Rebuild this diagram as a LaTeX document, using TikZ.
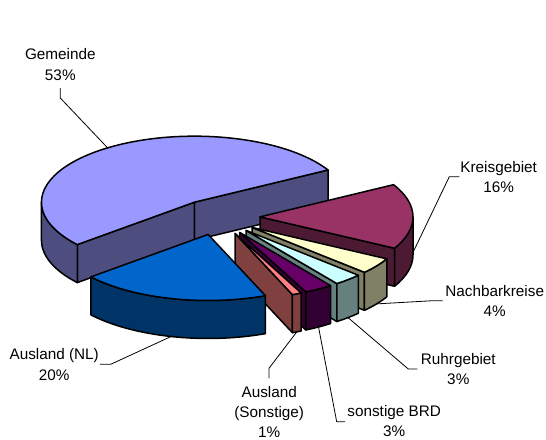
\documentclass[tikz,border=0pt]{standalone}
\usepackage{fontspec}
\setmainfont{Liberation Sans}
\usetikzlibrary{calc}
\definecolor{gemT}{HTML}{9999FF}
\definecolor{gemS}{HTML}{4D4D80}
\definecolor{kreT}{HTML}{993366}
\definecolor{kreS}{HTML}{4D1A33}
\definecolor{nacT}{HTML}{FFFFCC}
\definecolor{nacS}{HTML}{808066}
\definecolor{ruhT}{HTML}{CCFFFF}
\definecolor{ruhS}{HTML}{668080}
\definecolor{brdT}{HTML}{660066}
\definecolor{brdS}{HTML}{330033}
\definecolor{ausT}{HTML}{FF8080}
\definecolor{ausS}{HTML}{804040}
\definecolor{nlT}{HTML}{0066CC}
\definecolor{nlS}{HTML}{003366}
\newcommand\pcut[3]{\filldraw[fill=#3,edge] (#1) -- ($(#1)+(#2:153pt and 66pt)$) -- ++(0,-38pt) -- ($(#1)+(0,-38pt)$) -- cycle;}
\newcommand\pwall[4]{\filldraw[fill=#4,edge] ($(#1)+(#2:153pt and 66pt)$) arc[start angle=#2, end angle=#3, x radius=153pt, y radius=66pt] -- ++(0,-38pt) arc[start angle=#3, end angle=#2, x radius=153pt, y radius=66pt] -- cycle;}
\newcommand\ptop[4]{\filldraw[fill=#4,edge] (#1) -- ($(#1)+(#2:153pt and 66pt)$) arc[start angle=#2, end angle=#3, x radius=153pt, y radius=66pt] -- cycle;}
\begin{document}
\begin{tikzpicture}[x=1pt,y=1pt,
  edge/.style={draw=black,line width=1.5pt,line join=round},
  lbl/.style={font=\fontsize{15.3}{20.5}\selectfont, inner sep=0pt, anchor=base},
  lead/.style={draw=black,line width=0.8pt}]
\useasboundingbox (0,0) rectangle (546,-439);
\coordinate (C) at (218.2,-217);
\coordinate (TG) at ($(C)+(124.6:41.8pt and 18pt)$);
\coordinate (TK) at ($(C)+(0.4:41.8pt and 18pt)$);
\coordinate (TN) at ($(C)+(-35.6:41.8pt and 18pt)$);
\coordinate (TR) at ($(C)+(-48.2:41.8pt and 18pt)$);
\coordinate (TB) at ($(C)+(-59:41.8pt and 18pt)$);
\coordinate (TA) at ($(C)+(-66.2:41.8pt and 18pt)$);
\coordinate (TL) at ($(C)+(-104:41.8pt and 18pt)$);
% leader targets
\coordinate (gemP) at ($(TG)+(124.6:153pt and 66pt)$);
\coordinate (kreP) at ($(TK)+(0.4:153pt and 66pt)+(0,-36pt)$);
\coordinate (nacP) at ($(TN)+(-35.6:153pt and 66pt)+(0,-38pt)$);
\coordinate (ruhP) at ($(TR)+(-48.2:153pt and 66pt)+(0,-38pt)$);
\coordinate (brdP) at ($(TB)+(-59:153pt and 66pt)+(0,-38pt)$);
\coordinate (ausP) at ($(TA)+(-66.2:153pt and 66pt)+(0,-38pt)$);
\coordinate (nlP) at ($(TL)+(-104:153pt and 66pt)+(0,-38pt)$);
% labels
\node[lbl] (gem1) at (60.3,-59.5) {Gemeinde};
\node[lbl] (gem2) at (60.3,-80.5) {53\%};
\node[lbl] (kre1) at (498.7,-172.3) {Kreisgebiet};
\node[lbl] (kre2) at (498.7,-192.7) {16\%};
\node[lbl] (nac1) at (494.7,-296.7) {Nachbarkreise};
\node[lbl] (nac2) at (494.7,-316.7) {4\%};
\node[lbl] (ruh1) at (458.3,-364) {Ruhrgebiet};
\node[lbl] (ruh2) at (458.3,-384) {3\%};
\node[lbl] (brd1) at (394.2,-416) {sonstige BRD};
\node[lbl] (brd2) at (394.2,-436.5) {3\%};
\node[lbl] (aus1) at (269.2,-397) {Ausland};
\node[lbl] (aus2) at (269.2,-417) {(Sonstige)};
\node[lbl] (aus3) at (269.2,-437) {1\%};
\node[lbl] (nl1) at (54.2,-359) {Ausland (NL)};
\node[lbl] (nl2) at (54.2,-380) {20\%};
% leader starts
\coordinate (gemL) at (60.3,-88);
\coordinate (kreL) at (459.3,-176.7);
\coordinate (nacL) at (442.7,-300.7);
\coordinate (ruhL) at (417.3,-369);
\coordinate (brdL) at (345,-421.7);
\coordinate (ausL) at (269,-378.3);
\coordinate (nlL) at (100,-364.3);
\draw[lead] (gemL) -- ++(0,-10) -- (gemP);
\draw[lead] (kreL) -- ++(-10,0) -- (kreP);
\draw[lead] (nacL) -- ++(-10,0) -- (nacP);
\draw[lead] (ruhL) -- ++(-9,0) -- (ruhP);
\draw[lead] (brdL) -- ++(-8.3,0) -- (brdP);
\draw[lead] (ausL) -- ++(0,10) -- (ausP);
\draw[lead] (nlL) -- ++(10.7,0) -- (nlP);
% Gemeinde 29.2..220
\pcut{TG}{29.2}{gemS}
\pcut{TG}{220}{gemS}
\pwall{TG}{180}{220}{gemS}
\ptop{TG}{29.2}{220}{gemT}
% Kreisgebiet -28.4..29.2
\pcut{TK}{-28.4}{kreS}
\pwall{TK}{-28.4}{0}{kreS}
\ptop{TK}{-28.4}{29.2}{kreT}
% Nachbarkreise -42.8..-28.4
\pcut{TN}{-42.8}{nacS}
\pwall{TN}{-42.8}{-28.4}{nacS}
\ptop{TN}{-42.8}{-28.4}{nacT}
% Ruhrgebiet -53.6..-42.8
\pcut{TR}{-53.6}{ruhS}
\pwall{TR}{-53.6}{-42.8}{ruhS}
\ptop{TR}{-53.6}{-42.8}{ruhT}
% sonstige BRD -64.4..-53.6
\pcut{TB}{-64.4}{brdS}
\pwall{TB}{-64.4}{-53.6}{brdS}
\ptop{TB}{-64.4}{-53.6}{brdT}
% Ausland (Sonstige) -68..-64.4
\pcut{TA}{-68}{ausS}
\pwall{TA}{-68}{-64.4}{ausS}
\ptop{TA}{-68}{-64.4}{ausT}
% Ausland (NL) -140..-68
\pwall{TL}{-140}{-68}{nlS}
\ptop{TL}{-140}{-68}{nlT}
\end{tikzpicture}
\end{document}
